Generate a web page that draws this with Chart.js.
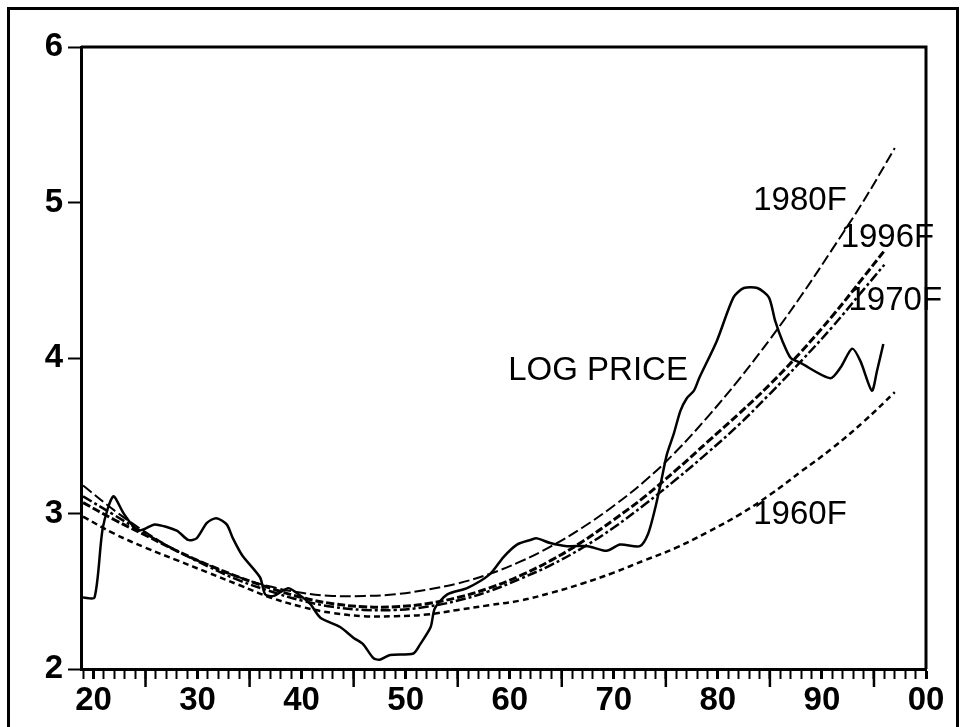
<!DOCTYPE html>
<html lang="en">
<head>
<meta charset="UTF-8" />
<title>Log price and trend fits</title>
<script src="https://cdn.jsdelivr.net/npm/chart.js@4/dist/chart.umd.min.js"></script>
<style>
  html, body { margin: 0; padding: 0; background: #fff; }
  #wrap { position: relative; width: 964px; height: 727px; overflow: hidden; }
  #frame { position: absolute; left: 7px; top: 7px; width: 946px; height: 740px; border: 3px solid #000; pointer-events: none; }
  canvas { position: absolute; left: 0; top: 0; }
</style>
</head>
<body>
<div id="wrap">
  <canvas id="mychart" width="964" height="727"></canvas>
  <div id="frame"></div>
</div>
<script>
// log price (years are 19xx)
const priceYears = [19.0, 20.1, 20.9, 21.9, 22.9, 24.2, 24.9, 25.9, 28.0, 29.1, 29.9, 30.9, 31.8, 32.8, 33.4, 34.3,
    36.0, 36.5, 37.3, 38.7, 39.5, 40.8, 41.8, 43.7, 45.0, 45.9, 46.9, 47.5, 48.5, 50.75, 51.4, 52.4, 52.8,
    54.0, 55.9, 58.1, 59.4, 60.7, 62.0, 62.6, 63.9, 65.5, 67.5, 69.3, 70.6, 72.5, 73.3, 74.0, 74.5, 75.1,
    75.75, 76.4, 77.0, 77.7, 78.2, 79.9, 81.5, 82.5, 83.8, 84.9, 85.5, 86.2, 87.0, 87.9, 90.8, 91.8, 92.9,
    93.7, 94.8, 95.3, 95.9];
const priceValues = [2.46, 2.46, 2.91, 3.11, 3.00, 2.89, 2.90, 2.93, 2.89, 2.83, 2.84, 2.94, 2.97, 2.93, 2.84, 2.73,
    2.59, 2.48, 2.47, 2.52, 2.49, 2.42, 2.33, 2.27, 2.20, 2.16, 2.07, 2.06, 2.09, 2.10, 2.16, 2.27, 2.39,
    2.48, 2.52, 2.61, 2.72, 2.80, 2.83, 2.84, 2.81, 2.79, 2.79, 2.76, 2.80, 2.79, 2.87, 3.04, 3.19, 3.38,
    3.51, 3.66, 3.74, 3.79, 3.87, 4.11, 4.39, 4.45, 4.45, 4.39, 4.24, 4.11, 4.00, 3.97, 3.87, 3.94, 4.06,
    3.98, 3.79, 3.92, 4.09];

// fitted trend curves
const fitYearsLong  = [19, 22, 25, 28, 31, 34, 37, 40, 43, 46, 49, 52, 55, 58, 61, 64, 67, 70, 73, 76, 79, 82, 85, 88, 91, 94, 97];
const fitYearsShort = [19, 22, 25, 28, 31, 34, 37, 40, 43, 46, 49, 52, 55, 58, 61, 64, 67, 70, 73, 76, 79, 82, 85, 88, 91, 94, 96];
const fit1980 = [3.18, 3.02, 2.88, 2.76, 2.67, 2.59, 2.53, 2.49, 2.47, 2.47, 2.48, 2.51, 2.55, 2.61, 2.69, 2.79, 2.91, 3.05, 3.21, 3.40, 3.62, 3.86, 4.12, 4.40, 4.70, 5.01, 5.35];
const fit1996 = [3.07, 2.96, 2.86, 2.76, 2.67, 2.59, 2.52, 2.46, 2.42, 2.40, 2.40, 2.42, 2.46, 2.52, 2.60, 2.70, 2.82, 2.96, 3.11, 3.28, 3.46, 3.64, 3.83, 4.04, 4.27, 4.52, 4.69];
const fit1970 = [3.11, 2.99, 2.87, 2.76, 2.66, 2.57, 2.50, 2.44, 2.40, 2.38, 2.38, 2.40, 2.44, 2.50, 2.58, 2.67, 2.78, 2.91, 3.06, 3.22, 3.39, 3.57, 3.77, 3.98, 4.20, 4.44, 4.60];
const fit1960 = [2.98, 2.87, 2.78, 2.70, 2.62, 2.54, 2.46, 2.40, 2.36, 2.34, 2.34, 2.35, 2.38, 2.41, 2.44, 2.49, 2.55, 2.62, 2.70, 2.78, 2.88, 2.99, 3.12, 3.27, 3.42, 3.59, 3.78];

// axis ticks
const decadeTicks  = [20, 30, 40, 50, 60, 70, 80, 90, 100];
const decadeLabels = ['20', '30', '40', '50', '60', '70', '80', '90', '00'];
const yTicks = [2, 3, 4, 5, 6];

// curve labels (text + where it sits, in data units)
const curveLabels = [
    { text: '1980F', x: 83.4, y: 5.01 },
    { text: '1996F', x: 91.8, y: 4.77 },
    { text: '1970F', x: 92.55, y: 4.37 },
    { text: 'LOG PRICE', x: 59.85, y: 3.92 },
    { text: '1960F', x: 83.4, y: 2.99 }
];

function pairs(xs, ys) {
    return xs.map((x, i) => ({ x: x, y: ys[i] }));
}

const FONT = '"Liberation Sans", Arial, sans-serif';

const extras = {
    id: 'extras',
    afterDraw(chart) {
        const ctx = chart.ctx;
        const a = chart.chartArea;
        const xs = chart.scales.x;
        const ys = chart.scales.y;
        ctx.save();
        ctx.strokeStyle = '#000';
        // top and right sides of the box
        ctx.lineWidth = 3;
        ctx.beginPath();
        ctx.moveTo(a.left, a.top);
        ctx.lineTo(a.right, a.top);
        ctx.lineTo(a.right, a.bottom);
        ctx.stroke();
        // longer half-decade ticks
        ctx.lineWidth = 2.5;
        for (let v = 25; v < 100; v += 10) {
            const px = xs.getPixelForValue(v);
            ctx.beginPath();
            ctx.moveTo(px, a.bottom);
            ctx.lineTo(px, a.bottom + 18);
            ctx.stroke();
        }
        // curve labels
        ctx.fillStyle = '#000';
        ctx.font = '33px ' + FONT;
        ctx.textAlign = 'left';
        ctx.textBaseline = 'middle';
        curveLabels.forEach(l => {
            ctx.fillText(l.text, xs.getPixelForValue(l.x), ys.getPixelForValue(l.y));
        });
        ctx.restore();
    }
};

const tickYears = [];
for (let v = 19; v <= 100; v++) tickYears.push(v);

const ctx = document.getElementById('mychart').getContext('2d');
new Chart(ctx, {
    type: 'scatter',
    data: {
        datasets: [
            { label: 'LOG PRICE', data: pairs(priceYears, priceValues), showLine: true,
              borderColor: '#000', borderWidth: 2.5, pointRadius: 0, tension: 0.25 },
            { label: '1980F', data: pairs(fitYearsLong, fit1980), showLine: true,
              borderColor: '#000', borderWidth: 2, borderDash: [11, 4], pointRadius: 0, tension: 0.4 },
            { label: '1996F', data: pairs(fitYearsShort, fit1996), showLine: true,
              borderColor: '#000', borderWidth: 3, borderDash: [8, 3], pointRadius: 0, tension: 0.4 },
            { label: '1970F', data: pairs(fitYearsShort, fit1970), showLine: true,
              borderColor: '#000', borderWidth: 2.5, borderDash: [10, 3, 3, 3], pointRadius: 0, tension: 0.4 },
            { label: '1960F', data: pairs(fitYearsLong, fit1960), showLine: true,
              borderColor: '#000', borderWidth: 2.5, borderDash: [6, 4], pointRadius: 0, tension: 0.4 }
        ]
    },
    options: {
        responsive: false,
        animation: false,
        events: [],
        layout: { padding: { left: 0, top: 47, right: 38, bottom: 0 } },
        plugins: { legend: { display: false }, tooltip: { enabled: false } },
        scales: {
            x: {
                type: 'linear',
                min: 18.8,
                max: 100,
                afterBuildTicks(s) { s.ticks = tickYears.map(v => ({ value: v })); },
                afterFit(s) { s.height = 58; s.paddingLeft = 0; s.paddingRight = 0; },
                border: { display: true, color: '#000', width: 3 },
                grid: {
                    drawOnChartArea: false, drawTicks: true, tickLength: 10,
                    tickColor: '#000',
                    tickWidth: c => (c.tick && c.tick.value % 10 === 0 ? 3 : 2)
                },
                ticks: {
                    autoSkip: false, maxRotation: 0, padding: 2, color: '#000',
                    font: { family: FONT, size: 33, weight: 'bold' },
                    callback: v => {
                        const i = decadeTicks.indexOf(v);
                        return i >= 0 ? decadeLabels[i] : '';
                    }
                }
            },
            y: {
                type: 'linear',
                min: 2,
                max: 6,
                afterBuildTicks(s) { s.ticks = yTicks.map(v => ({ value: v })); },
                afterFit(s) { s.width = 81; s.paddingTop = 0; s.paddingBottom = 0; },
                border: { display: true, color: '#000', width: 3 },
                grid: { drawOnChartArea: false, drawTicks: true, tickLength: 13, tickColor: '#000', tickWidth: 2 },
                ticks: {
                    padding: 5, color: '#000',
                    font: { family: FONT, size: 33, weight: 'bold' }
                }
            }
        }
    },
    plugins: [extras]
});
</script>
</body>
</html>
